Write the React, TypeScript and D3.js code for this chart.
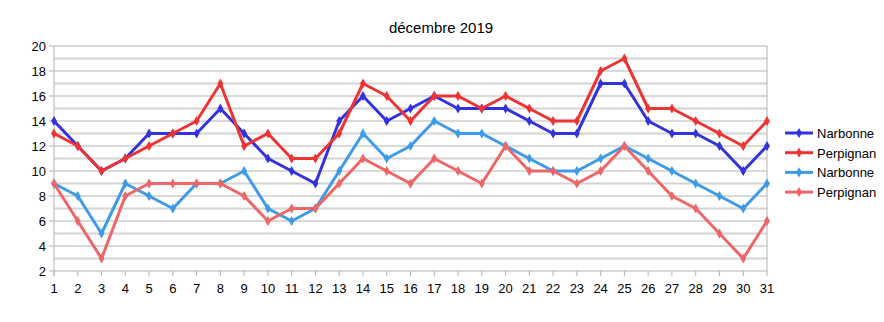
import React from "react";
import * as d3 from "d3";

const days = d3.range(1, 32);
const narbonneMax = [14,12,10,11,13,13,13,15,13,11,10,9,14,16,14,15,16,15,15,15,14,13,13,17,17,14,13,13,12,10,12];
const perpignanMax = [13,12,10,11,12,13,14,17,12,13,11,11,13,17,16,14,16,16,15,16,15,14,14,18,19,15,15,14,13,12,14];
const narbonneMin = [9,8,5,9,8,7,9,9,10,7,6,7,10,13,11,12,14,13,13,12,11,10,10,11,12,11,10,9,8,7,9];
const perpignanMin = [9,6,3,8,9,9,9,9,8,6,7,7,9,11,10,9,11,10,9,12,10,10,9,10,12,10,8,7,5,3,6];
const yTicks = [2,4,6,8,10,12,14,16,18,20];
const yMinor = [3,5,7,9,11,13,15,17,19];

const series = [
  { name: "Narbonne", values: narbonneMax, color: "#3333dd" },
  { name: "Perpignan", values: perpignanMax, color: "#ee3333" },
  { name: "Narbonne", values: narbonneMin, color: "#3d9be9" },
  { name: "Perpignan", values: perpignanMin, color: "#ee6666" },
];

export default function App() {
  const W = 884, H = 322;
  const left = 54, right = 767, top = 46, bottom = 271;
  const x = d3.scaleLinear().domain([1, 31]).range([left, right]);
  const y = d3.scaleLinear().domain([2, 20]).range([bottom, top]);
  const line = d3.line<number>().x((_, i) => x(days[i])).y((d) => y(d));
  const font = "'Liberation Sans', Arial, sans-serif";
  return (
    <svg width={W} height={H} style={{ position: "absolute", left: 0, top: 0, background: "#fff" }} fontFamily={font}>
      <rect width={W} height={H} fill="#fff" />
      <text x={441} y={33} textAnchor="middle" fontSize={15} fill="#000">décembre 2019</text>
      {yMinor.map((v) => (
        <line key={"m" + v} x1={left} x2={right} y1={y(v)} y2={y(v)} stroke="#d4d4d4" strokeWidth={2} />
      ))}
      {yTicks.map((v) => (
        <g key={"t" + v}>
          <line x1={left - 5} x2={right} y1={y(v)} y2={y(v)} stroke="#b3b3b3" strokeWidth={1} />
          <text x={left - 8} y={y(v) + 5} textAnchor="end" fontSize={13} fill="#000">{v}</text>
        </g>
      ))}
      <line x1={left} x2={left} y1={top} y2={bottom + 5} stroke="#b3b3b3" />
      <line x1={right} x2={right} y1={top} y2={bottom} stroke="#b3b3b3" />
      {days.map((d) => (
        <g key={"x" + d}>
          <line x1={x(d)} x2={x(d)} y1={bottom} y2={bottom + 5} stroke="#b3b3b3" />
          <text x={x(d)} y={293} textAnchor="middle" fontSize={13} fill="#000">{d}</text>
        </g>
      ))}
      {series.map((s, si) => (
        <g key={"s" + si}>
          <path d={line(s.values) || ""} fill="none" stroke={s.color} strokeWidth={3} strokeLinejoin="round" />
          {s.values.map((v, i) => (
            <path key={i} d={d3.symbol(d3.symbolDiamond, 30)() || ""} transform={`translate(${x(days[i])},${y(v)})`} fill={s.color} />
          ))}
        </g>
      ))}
      {series.map((s, si) => {
        const ly = 133 + si * 19.7;
        return (
          <g key={"l" + si}>
            <line x1={785} x2={813} y1={ly} y2={ly} stroke={s.color} strokeWidth={3} />
            <path d={d3.symbol(d3.symbolDiamond, 30)() || ""} transform={`translate(799,${ly})`} fill={s.color} />
            <text x={817} y={ly + 5} fontSize={13} fill="#000">{s.name}</text>
          </g>
        );
      })}
    </svg>
  );
}
